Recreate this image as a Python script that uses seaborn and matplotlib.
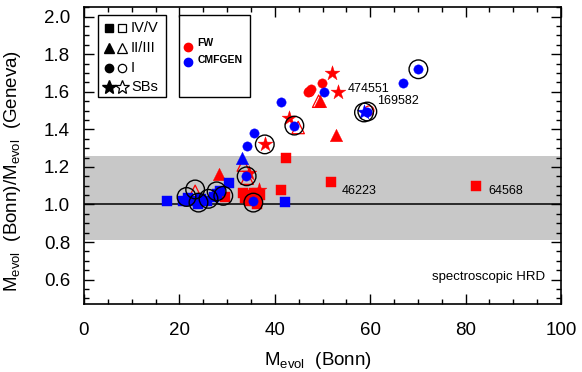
import numpy as np
import pandas as pd
import matplotlib
matplotlib.use("Agg")
import matplotlib.pyplot as plt
import seaborn as sns
from matplotlib.patches import Rectangle
from matplotlib.lines import Line2D

sns.set_theme(style="white")
plt.rcParams["font.family"] = ["Liberation Sans", "DejaVu Sans"]
plt.rcParams["mathtext.fontset"] = "custom"
plt.rcParams["mathtext.rm"] = "Liberation Sans"
plt.rcParams["mathtext.it"] = "Liberation Sans"
plt.rcParams["mathtext.bf"] = "Liberation Sans:bold"

# ---------------- data ----------------
mass = [42.3, 41.2, 51.8, 82.1, 33.3, 34.5, 35.6, 36.8, 34.8, 36.2, 33.8, 29.5,
        49.5, 52.8, 28.4,
        46.9, 47.6, 49.8,
        51.9, 53.3, 43.0, 37.9, 36.6, 34.6,
        49.2, 44.9, 33.4, 23.3, 34.2,
        59.8, 47.3,
        17.5, 20.8, 21.8, 22.8, 24.5, 25.8, 27.2, 28.5, 27.8, 30.3, 42.1, 24.0,
        33.2,
        70.1, 66.9, 50.3, 41.4, 44.1, 35.7, 34.2, 34.0, 59.3, 35.4,
        58.7]
ratio = [1.245, 1.078, 1.12, 1.10, 1.06, 1.05, 1.06, 1.05, 1.02, 1.00, 1.035, 1.04,
         1.55, 1.37, 1.16,
         1.60, 1.615, 1.645,
         1.70, 1.60, 1.46, 1.32, 1.075, 1.17,
         1.55, 1.41, 1.21, 1.07, 1.14,
         1.50, 1.60,
         1.02, 1.02, 1.035, 1.02, 1.03, 1.02, 1.04, 1.07, 1.055, 1.115, 1.014, 1.00,
         1.245,
         1.72, 1.645, 1.60, 1.545, 1.42, 1.38, 1.31, 1.15, 1.49, 1.02,
         1.49]
method = (["FW"] * 31) + (["CMFGEN"] * 24)
lclass = (["IV/V"] * 12 + ["II/III"] * 3 + ["I"] * 3 + ["SB"] * 6
          + ["II/III"] * 5 + ["I"] * 2
          + ["IV/V"] * 12 + ["II/III"] * 1 + ["I"] * 10 + ["SB"] * 1)
filled = ([1] * 24 + [0] * 7 + [1] * 24)

ring_mass = [70.1, 58.7, 59.4, 44.1, 37.9, 34.1, 35.5, 21.5, 23.3, 24.0, 26.1, 27.8, 29.2]
ring_ratio = [1.72, 1.49, 1.495, 1.42, 1.32, 1.15, 1.01, 1.04, 1.08, 1.01, 1.03, 1.07, 1.046]

label_ids = ["474551", "169582", "46223", "64568"]
label_mass = [53.3, 58.9, 51.8, 82.1]
label_ratio = [1.60, 1.49, 1.12, 1.10]

band_low, band_high = 0.81, 1.26

df = pd.DataFrame({"mass": mass, "ratio": ratio, "method": method,
                   "lclass": lclass, "filled": filled})

colors = {"FW": "#ff0000", "CMFGEN": "#0000ff"}
markers = {"IV/V": "s", "II/III": "^", "I": "o", "SB": "*"}
sizes = {"IV/V": 55, "II/III": 80, "I": 45, "SB": 125}

# ---------------- figure ----------------
W, H = 582, 372
fig = plt.figure(figsize=(W / 100, H / 100), dpi=100)
ax = fig.add_axes([84 / W, 1 - 304 / H, 477 / W, 296.7 / H])
ax.set_facecolor("white")

ax.axhspan(band_low, band_high, color="#c8c8c8", lw=0, zorder=0)
ax.axhline(1.0, color="black", lw=1.1, zorder=1)

z = 2
for meth in ["FW", "CMFGEN"]:
    for fl in [1, 0]:
        for lc in ["IV/V", "II/III", "I", "SB"]:
            sub = df[(df.method == meth) & (df.filled == fl) & (df.lclass == lc)]
            if sub.empty:
                continue
            c = colors[meth]
            if fl:
                sns.scatterplot(data=sub, x="mass", y="ratio", marker=markers[lc],
                                s=sizes[lc], color=c, edgecolor=c, linewidth=0.3,
                                ax=ax, legend=False, zorder=z)
            else:
                sns.scatterplot(data=sub, x="mass", y="ratio", marker=markers[lc],
                                s=sizes[lc], color=c, facecolor="none", edgecolor=c,
                                linewidth=0.9, ax=ax, legend=False, zorder=z)
            z += 0.1

sns.scatterplot(x=ring_mass, y=ring_ratio, marker="o", s=180, color="black",
                facecolor="none", edgecolor="black", linewidth=1.0, ax=ax,
                legend=False, zorder=10)

offsets = [(9, 3), (12, 11), (11, -9), (13, -5)]
for lid, m, r, off in zip(label_ids, label_mass, label_ratio, offsets):
    ax.annotate(lid, (m, r), xytext=off, textcoords="offset pixels",
                ha="left", va="center", fontsize=9, color="black", zorder=11)

ax.text(0.966, 0.091, "spectroscopic HRD", transform=ax.transAxes,
        ha="right", va="center", fontsize=9.5, color="black")

ax.set_xlim(0, 100)
ax.set_ylim(0.47, 2.05)
ax.set_xticks(np.arange(0, 101, 20))
ax.set_xticks(np.arange(0, 101, 5), minor=True)
ax.set_yticks(np.arange(0.6, 2.01, 0.2))
ax.set_yticks(np.arange(0.5, 2.051, 0.05), minor=True)
ax.set_xticklabels(["0", "20", "40", "60", "80", "100"])
ax.set_yticklabels([f"{v:.1f}" for v in np.arange(0.6, 2.01, 0.2)])
ax.tick_params(which="both", direction="in", top=True, right=True,
               bottom=True, left=True, color="black", width=1.0)
ax.tick_params(which="major", length=7)
ax.tick_params(which="minor", length=3.5)
ax.tick_params(axis="x", which="major", pad=13, labelsize=13.5, labelcolor="black")
ax.tick_params(axis="y", which="major", pad=10, labelsize=13.5, labelcolor="black")
for sp in ax.spines.values():
    sp.set_color("black")
    sp.set_linewidth(1.2)

ax.set_xlabel(r"M$_{\rm evol}$  (Bonn)", fontsize=13.5, color="black")
ax.set_ylabel(r"M$_{\rm evol}$  (Bonn)/M$_{\rm evol}$  (Geneva)", fontsize=13.5,
              color="black")
ax.xaxis.set_label_coords(0.49, -0.155)
ax.yaxis.set_label_coords(-0.128, 0.45)

# ---------------- legend boxes ----------------
def fx(px):
    return px / W

def fy(py):
    return 1 - py / H

for (x0, x1) in [(98.3, 166), (179.3, 250)]:
    fig.add_artist(Rectangle((fx(x0), fy(97)), fx(x1) - fx(x0), fy(15) - fy(97),
                             transform=fig.transFigure, facecolor="white",
                             edgecolor="black", lw=1.0, zorder=20))

leg_rows = [("s", 28.3, "IV/V", 5.8), ("^", 48.3, "II/III", 7.8),
            ("o", 67.7, "I", 6.0), ("*", 87.3, "SBs", 10.5)]
for mk, py, txt, ms in leg_rows:
    fig.add_artist(Line2D([fx(109.3)], [fy(py)], marker=mk, ms=ms, color="black",
                          mec="black", ls="none", transform=fig.transFigure, zorder=21))
    fig.add_artist(Line2D([fx(121.7)], [fy(py)], marker=mk, ms=ms, color="black",
                          mfc="none", mec="black", mew=0.9, ls="none",
                          transform=fig.transFigure, zorder=21))
    fig.text(fx(131), fy(py), txt, ha="left", va="center", fontsize=10.5,
             color="black", zorder=22)

for meth, py, ty in [("FW", 46.7, 43.5), ("CMFGEN", 62.3, 60)]:
    fig.add_artist(Line2D([fx(188.3)], [fy(py)], marker="o", ms=6.0,
                          color=colors[meth], ls="none",
                          transform=fig.transFigure, zorder=21))
    fig.text(fx(197.5), fy(ty), meth, ha="left", va="center", fontsize=7.5,
             fontweight="bold", color="black", zorder=22)

fig.savefig("out.png", dpi=100, facecolor="white")
